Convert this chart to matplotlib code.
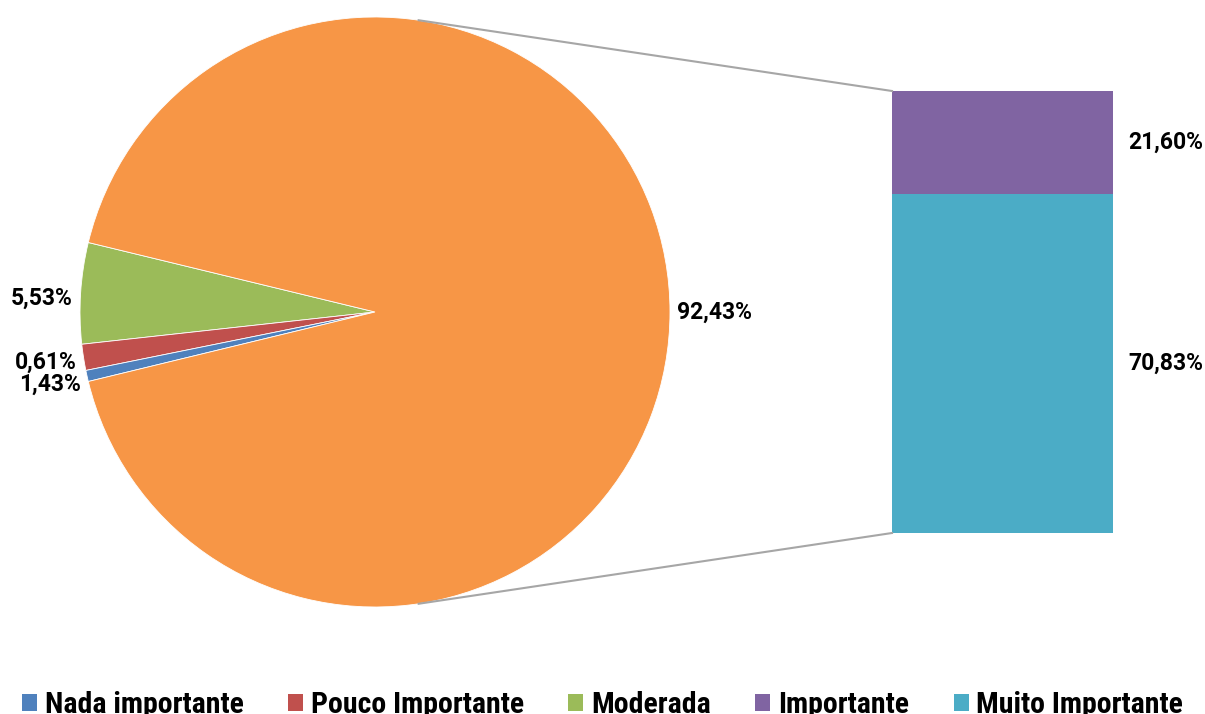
import numpy as np
import matplotlib
matplotlib.use('Agg')
import matplotlib.pyplot as plt
from matplotlib.lines import Line2D
from matplotlib.patches import Patch

plt.rcParams['font.family'] = ['Roboto', 'DejaVu Sans']
plt.rcParams['font.weight'] = 'bold'

# pie: the three small answers plus the combined "important" share
pie_names = ['Moderada', 'Pouco Importante', 'Nada importante', 'Importante + Muito Importante']
pie_values = [5.53, 1.43, 0.61, 92.43]
pie_labels = ['5,53%', '1,43%', '0,61%', '92,43%']
pie_colors = ['#9BBB59', '#C0504D', '#4F81BD', '#F79646']
# the two small labels sit swapped/spread to avoid overlap
label_nudge = [1.0, 5.0, -3.0, 0.0]

# bar: breakdown of the combined slice
bar_names = ['Muito Importante', 'Importante']
bar_values = [70.83, 21.60]
bar_labels = ['70,83%', '21,60%']
bar_colors = ['#4BACC6', '#8064A2']

legend_names = ['Nada importante', 'Pouco Importante', 'Moderada', 'Importante', 'Muito Importante']
legend_colors = ['#4F81BD', '#C0504D', '#9BBB59', '#8064A2', '#4BACC6']

W, H = 1205, 714
fig = plt.figure(figsize=(W / 100, H / 100), dpi=100)

ax_pie = fig.add_axes([80 / W, (H - 607) / H, 590 / W, 590 / H])
small_total = sum(pie_values[:3])
start = 180 - small_total / 100 * 360 / 2
wedges, _ = ax_pie.pie(pie_values, colors=pie_colors, startangle=start,
                       counterclock=True, radius=1,
                       wedgeprops=dict(linewidth=0.6, edgecolor='white'))
ax_pie.set_xlim(-1, 1)
ax_pie.set_ylim(-1, 1)
ax_pie.set_aspect('equal')

for w, lab, nd in zip(wedges, pie_labels, label_nudge):
    mid = np.deg2rad((w.theta1 + w.theta2) / 2 + nd)
    x, y = 1.025 * np.cos(mid), 1.025 * np.sin(mid)
    ha = 'left' if x > 0 else 'right'
    ax_pie.text(x, y, lab, ha=ha, va='center', fontsize=16.5, fontweight='bold')

ax_bar = fig.add_axes([892 / W, (H - 533) / H, 221 / W, 442 / H])
bottom = 0
for v, c, lab in zip(bar_values, bar_colors, bar_labels):
    ax_bar.bar(0, v, width=1, bottom=bottom, color=c, linewidth=0)
    ax_bar.text(0.57, bottom + v / 2, lab, ha='left', va='center',
                fontsize=16.5, fontweight='bold')
    bottom += v
ax_bar.set_xlim(-0.5, 0.5)
ax_bar.set_ylim(0, sum(bar_values))
ax_bar.axis('off')

# connector lines: tangents from the bar's left corners to the pie
fig.canvas.draw()
cx, cy = ax_pie.transData.transform((0, 0))
r = ax_pie.transData.transform((1, 0))[0] - cx
for yv in (sum(bar_values), 0):
    px, py = ax_bar.transData.transform((-0.5, yv))
    d = np.hypot(px - cx, py - cy)
    base = np.arctan2(py - cy, px - cx)
    off = np.arccos(r / d)
    ang = base + off if py > cy else base - off
    tx, ty = cx + r * np.cos(ang), cy + r * np.sin(ang)
    fig.add_artist(Line2D([tx / W, px / W], [ty / H, py / H],
                          transform=fig.transFigure, color='#A6A6A6', lw=1.5))

handles = [Patch(facecolor=c, edgecolor='none') for c in legend_colors]
fig.legend(handles, legend_names, loc='center', bbox_to_anchor=(0.5, 9 / H),
           ncol=5, frameon=False, handlelength=0.5, handleheight=0.5,
           handletextpad=0.25, columnspacing=1.5, borderpad=0,
           prop=dict(family=['Roboto Condensed', 'Roboto'], weight='bold', size=21.5))

fig.savefig('out.png', dpi=100)
